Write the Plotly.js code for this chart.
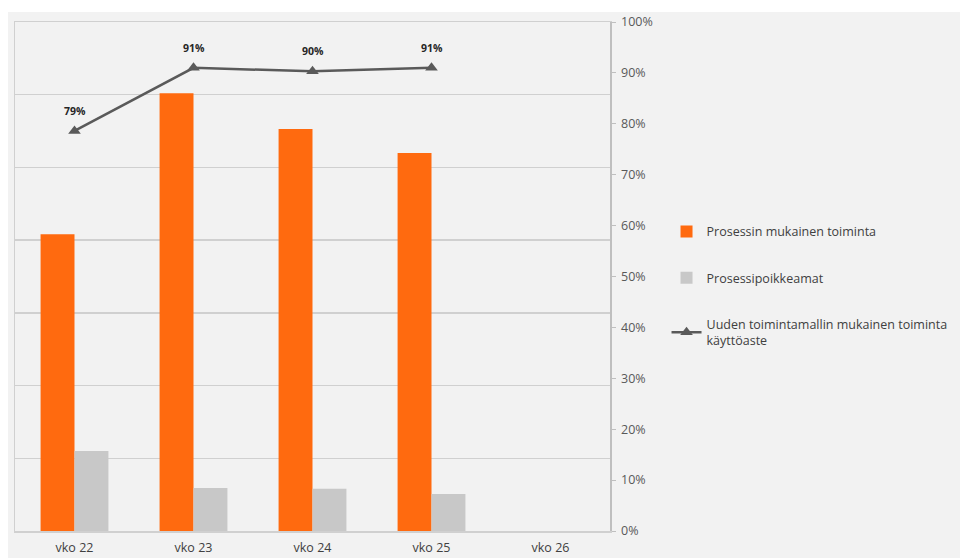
<!DOCTYPE html>
<html>
<head>
<meta charset="utf-8">
<script src="https://cdn.plot.ly/plotly-3.0.1.min.js"></script>
<style>
  html, body { margin: 0; padding: 0; background: #ffffff; }
  #chart { position: absolute; left: 8px; top: 12px; width: 952px; height: 546px; }
</style>
</head>
<body>
<div id="chart"></div>
<script>
// Categories (weeks)
const weeks = ["vko 22", "vko 23", "vko 24", "vko 25", "vko 26"];
// Primary (hidden) axis series
const processCompliant = [0.408, 0.602, 0.553, 0.520, null];
const processDeviations = [0.110, 0.059, 0.058, 0.051, null];
// Secondary (right, %) axis series
const usageRate = [0.786, 0.910, 0.903, 0.910, null];

const names = [
  "Prosessin mukainen toiminta",
  "Prosessipoikkeamat",
  "Uuden toimintamallin mukainen toiminta<br>käyttöaste"
];

const font = "'Open Sans', 'Liberation Sans', sans-serif";

const traces = [
  {
    type: "bar", name: names[0], x: weeks, y: processCompliant,
    marker: { color: "#ff6a0f" }, legendgroup: "a", hoverinfo: "x+y"
  },
  {
    type: "bar", name: names[1], x: weeks, y: processDeviations,
    marker: { color: "#c8c8c8" }, legendgroup: "b", hoverinfo: "x+y"
  },
  {
    type: "scatter", mode: "lines+markers", name: names[2],
    x: weeks, y: usageRate, yaxis: "y2",
    line: { color: "#5a5a5a", width: 2.5 },
    marker: { symbol: "triangle-up", size: 11, color: "#5a5a5a" },
    legendgroup: "c", cliponaxis: false
  }
];

// Data labels for the line, built from the series
const labels = [];
weeks.forEach((w, i) => {
  const v = usageRate[i];
  if (v === null || v === undefined) return;
  labels.push({
    x: w, y: v, xref: "x", yref: "y2",
    text: "<b>" + Math.round(v * 100) + "%</b>",
    showarrow: false, yshift: 20,
    font: { family: font, size: 10.5, color: "#262626" }
  });
});

const layout = {
  width: 952, height: 546,
  margin: { l: 7, r: 350, t: 10, b: 27, pad: 0 },
  paper_bgcolor: "#f2f2f2",
  plot_bgcolor: "#f2f2f2",
  font: { family: font, size: 12, color: "#404040" },
  barmode: "group",
  bargap: 0.43,
  bargroupgap: 0,
  annotations: labels,
  xaxis: {
    type: "category", categoryorder: "array", categoryarray: weeks,
    showgrid: false, showline: true, mirror: true, linecolor: "#d0d0d0", linewidth: 1.5,
    ticks: "", ticklabelstandoff: 4,
    tickfont: { size: 12.5, color: "#404040" }, fixedrange: true
  },
  yaxis: {
    range: [0, 0.7], dtick: 0.1, showticklabels: false,
    showgrid: true, gridcolor: "#d0d0d0", gridwidth: 1.5,
    showline: true, linecolor: "#d0d0d0", linewidth: 1.5,
    zeroline: false, ticks: "", fixedrange: true
  },
  yaxis2: {
    overlaying: "y", side: "right", range: [0, 1], dtick: 0.1, tickformat: ".0%",
    showgrid: false, zeroline: false,
    showline: true, linecolor: "#bfbfbf", linewidth: 1.5,
    ticks: "outside", ticklen: 4, tickcolor: "#bfbfbf", ticklabelstandoff: 3,
    tickfont: { size: 12.5, color: "#595959" }, fixedrange: true
  },
  showlegend: true,
  legend: {
    x: 1.095, xanchor: "left", y: 0.617, yanchor: "top",
    bgcolor: "rgba(0,0,0,0)", font: { size: 12.5, color: "#404040" },
    traceorder: "grouped", tracegroupgap: 27, itemwidth: 30
  }
};

Plotly.newPlot("chart", traces, layout, { displayModeBar: false, staticPlot: true });
</script>
</body>
</html>
